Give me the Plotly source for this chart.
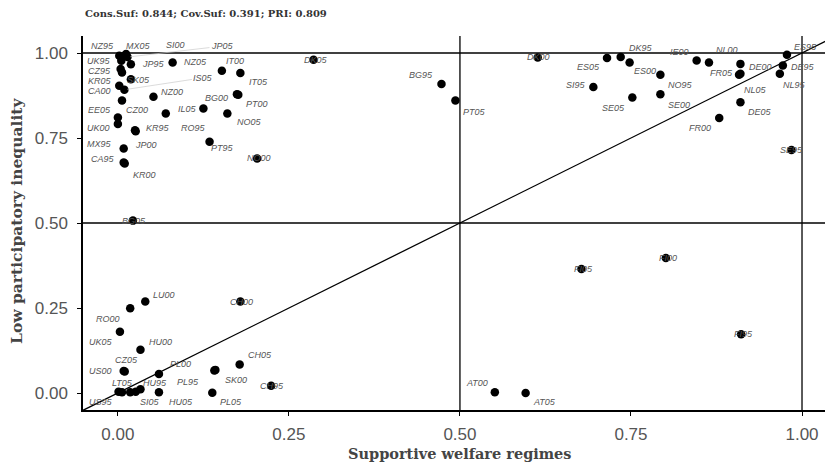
import plotly.graph_objects as go

# ---- data ----
cases = ["NZ95", "MX05", "SI00", "JP05", "UK95", "JP95", "NZ05", "CZ95", "KR05", "SK05",
         "IS05", "CA00", "NZ00", "EE05", "CZ00", "UK00", "KR95", "JP00", "MX95", "CA95",
         "KR00", "RO95", "IL05", "IT00", "IT05", "BG00", "PT00", "NO05", "PT95", "NO00",
         "DK05", "BG95", "PT05", "DK00", "ES05", "DK95", "ES00", "NO95", "SI95", "SE05",
         "SE00", "IE00", "NL00", "DE00", "FR05", "NL05", "DE05", "FR00", "ES95", "DE95",
         "NL95", "SE95", "FI05", "FI00", "FI95", "AT00", "AT05", "BG05", "LU00", "RO00",
         "UK05", "HU00", "CZ05", "US00", "CH00", "CH05", "SK00", "PL95", "PL05", "CH95",
         "PL00", "HU05", "HU95", "SI05", "LT05", "US95", "LV05"]

welfare = [0.002, 0.012, 0.010, 0.014, 0.005, 0.019, 0.080, 0.004, 0.006, 0.019,
           0.0095, 0.002, 0.052, 0.006, 0.000, 0.000, 0.025, 0.026, 0.0085, 0.0085,
           0.010, 0.070, 0.125, 0.152, 0.179, 0.174, 0.176, 0.160, 0.134, 0.2035,
           0.286, 0.473, 0.4934, 0.6137, 0.715, 0.735, 0.748, 0.793, 0.695, 0.752,
           0.793, 0.846, 0.864, 0.910, 0.910, 0.908, 0.910, 0.879, 0.978, 0.972,
           0.9676, 0.9846, 0.6776, 0.801, 0.911, 0.551, 0.596, 0.022, 0.040, 0.018,
           0.003, 0.033, 0.010, 0.0085, 0.179, 0.178, 0.1425, 0.141, 0.138, 0.224,
           0.060, 0.060, 0.033, 0.026, 0.006, 0.001, 0.018]

inequality = [0.992, 0.997, 0.993, 0.988, 0.977, 0.967, 0.972, 0.953, 0.943, 0.923,
              0.892, 0.904, 0.871, 0.860, 0.810, 0.791, 0.773, 0.770, 0.719, 0.678,
              0.675, 0.822, 0.837, 0.948, 0.941, 0.879, 0.877, 0.822, 0.739, 0.690,
              0.980, 0.909, 0.860, 0.987, 0.985, 0.988, 0.972, 0.936, 0.900, 0.869,
              0.879, 0.978, 0.972, 0.968, 0.939, 0.936, 0.855, 0.809, 0.995, 0.963,
              0.939, 0.715, 0.365, 0.397, 0.173, 0.002, 0.000, 0.507, 0.269, 0.249,
              0.180, 0.127, 0.063, 0.065, 0.269, 0.084, 0.068, 0.066, 0.001, 0.021,
              0.056, 0.002, 0.011, 0.004, 0.002, 0.004, 0.002]

x_ticks = [0.0, 0.25, 0.5, 0.75, 1.0]
y_ticks = [0.0, 0.25, 0.5, 0.75, 1.0]
tick_text = ["0.00", "0.25", "0.50", "0.75", "1.00"]
title_text = "Cons.Suf: 0.844; Cov.Suf: 0.391; PRI: 0.809"
x_title = "Supportive welfare regimes"
y_title = "Low participatory inequality"

# ---- label placement (pixel offsets, like ggrepel), styling only ----
label_dx = [-17, 12, 51, 95, -22, 23, 23, -21, -22, 8,
            79, -20, 19, -22, 19, -19, 23, 10, -24, -21,
            20, 28, -16, 13, 18, -20, 19, 22, 13, 2,
            2, -20, 19, 1, -19, 20, 15, 20, -17, -19,
            19, -17, 18, 20, -19, 16, 20, -19, 19, 20,
            15, 0, 2, 2, 2, -18, 19, 1, 19, -22,
            -19, 20, 2, -23, 1, 20, 21, -26, 19, 1,
            22, 22, 15, 14, 1, -18, None]
label_dy = [10, 8, 10, 11, 0, 0, 1, -2, -9, -1,
            12, -5, 5, -9, 8, -4, 2, -14, 5, 3,
            -11, -14, -1, 10, -9, -4, -9, -8, -6, 0,
            0, 9, -11, 0, -9, 9, -8, -10, 2, -10,
            -11, 8, 13, -3, 1, -15, -10, -10, 8, -1,
            -11, 0, 0, 0, 0, 9, -9, 0, 7, -11,
            -10, 8, 12, 0, 0, 9, -10, -11, -9, 0,
            10, -10, 6, -10, 9, -10, None]
segment_labels = {"IS05", "JP05"}

fig = go.Figure()

# reference lines (thresholds 0.5 / 1.0 and the diagonal)
line_style = dict(color="black", width=1.3)
fig.add_trace(go.Scatter(x=[-0.2, 1.2], y=[1.0, 1.0], mode="lines", line=line_style, hoverinfo="skip"))
fig.add_trace(go.Scatter(x=[-0.2, 1.2], y=[0.5, 0.5], mode="lines", line=line_style, hoverinfo="skip"))
fig.add_trace(go.Scatter(x=[0.5, 0.5], y=[-0.2, 1.2], mode="lines", line=line_style, hoverinfo="skip"))
fig.add_trace(go.Scatter(x=[1.0, 1.0], y=[-0.2, 1.2], mode="lines", line=line_style, hoverinfo="skip"))
fig.add_trace(go.Scatter(x=[-0.2, 1.2], y=[-0.2, 1.2], mode="lines", line=line_style, hoverinfo="skip"))

fig.add_trace(go.Scatter(x=welfare, y=inequality, mode="markers", text=cases,
                         marker=dict(color="black", size=8.5, line=dict(width=0))))

for name, xv, yv, dx, dy in zip(cases, welfare, inequality, label_dx, label_dy):
    if dx is None:
        continue
    common = dict(x=xv, y=yv, xref="x", yref="y", text="<i>" + name + "</i>",
                  font=dict(family="Liberation Sans, Arial", size=9, color="#555555"))
    if name in segment_labels:
        fig.add_annotation(**common, showarrow=True, ax=dx, ay=-dy, arrowhead=0,
                           arrowwidth=0.7, arrowcolor="#cccccc", standoff=3)
    else:
        fig.add_annotation(**common, showarrow=False, xshift=dx, yshift=dy)

serif_title = dict(family="DejaVu Serif", size=10, color="#333333")

fig.add_annotation(text="<b>" + title_text + "</b>", xref="paper", yref="paper",
                   x=0, y=1.0, xshift=0, yshift=23, xanchor="left", yanchor="middle",
                   showarrow=False, font=serif_title)
fig.add_annotation(text="<b>" + x_title + "</b>", xref="paper", yref="paper",
                   x=0.5, y=0, xshift=-2, yshift=-43, xanchor="center", yanchor="middle",
                   showarrow=False, font=dict(family="DejaVu Serif", size=14.5, color="#444444"))
fig.add_annotation(text="<b>" + y_title + "</b>", xref="paper", yref="paper",
                   x=0, y=0.5, xshift=-67, yshift=2, xanchor="center", yanchor="middle",
                   textangle=-90, showarrow=False, borderpad=0,
                   font=dict(family="DejaVu Serif", size=15.5, color="#444444"))

axis_common = dict(showgrid=False, zeroline=False, showline=True, linecolor="black", linewidth=1.5,
                   ticks="outside", ticklen=4, tickwidth=1.3, tickcolor="black",
                   tickfont=dict(family="Liberation Sans, Arial", size=17, color="#555555"),
                   ticktext=tick_text, tickmode="array", automargin=False)

# the page body adds an 8px offset, so margins are reduced by 8px to compensate
fig.update_layout(
    width=833, height=468,
    margin=dict(l=75, r=0, t=28, b=66),
    plot_bgcolor="white", paper_bgcolor="white",
    showlegend=False,
    xaxis=dict(range=[-0.051, 1.057], tickvals=x_ticks, ticklabelstandoff=4, **axis_common),
    yaxis=dict(range=[-0.05, 1.05], tickvals=y_ticks, ticklabelstandoff=6, **axis_common),
)

fig.write_html("out.html")
